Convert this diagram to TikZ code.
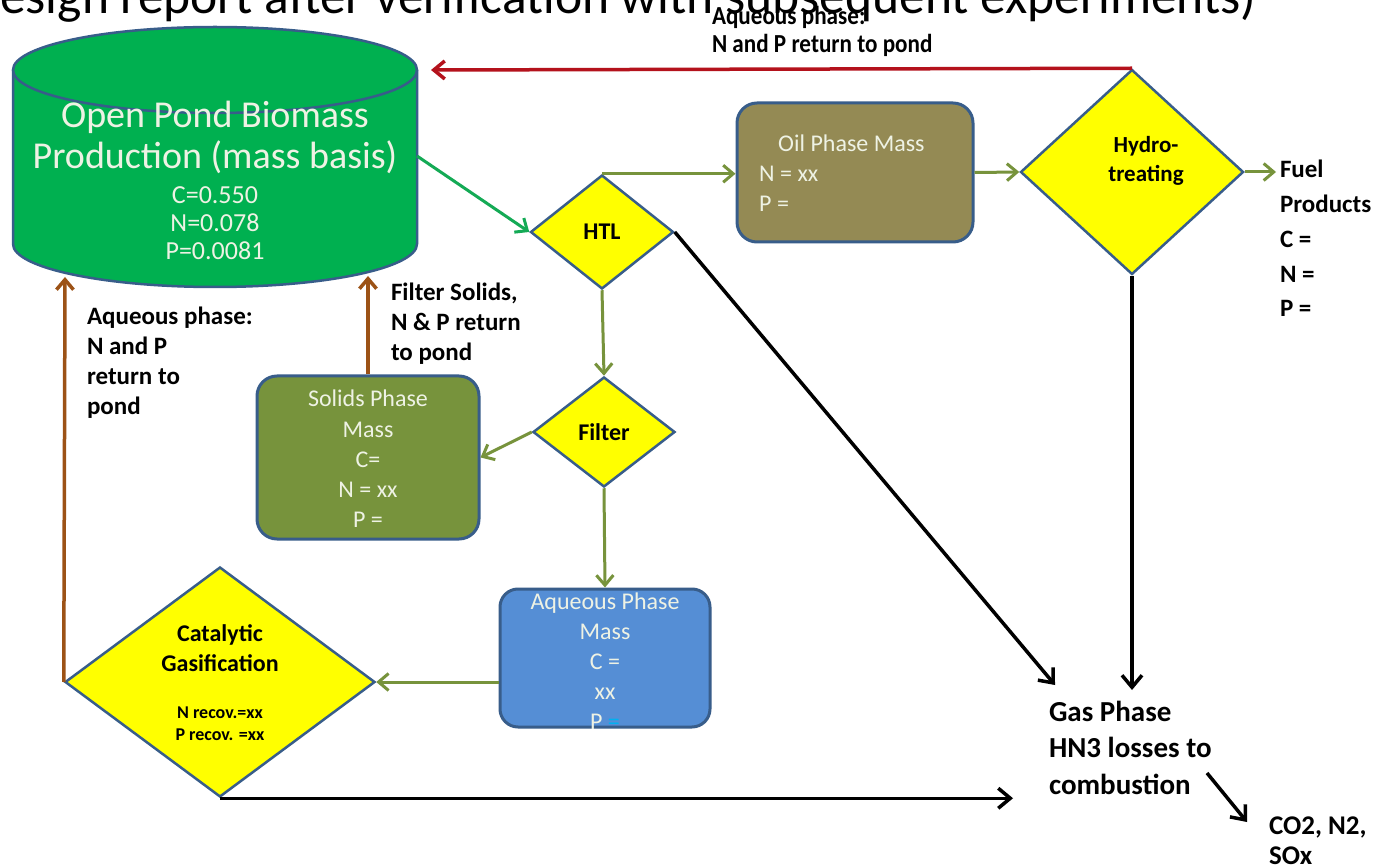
\documentclass[tikz,border=0pt]{standalone}
\usepackage{fontspec}
\setmainfont{Carlito}
\newfontfamily\condfont[FakeStretch=0.89]{Carlito}
\usetikzlibrary{arrows.meta,shapes.geometric}
\definecolor{pondgreen}{RGB}{0,176,80}
\definecolor{edgeblue}{RGB}{56,93,138}
\definecolor{oilfill}{RGB}{148,138,84}
\definecolor{solidfill}{RGB}{119,147,60}
\definecolor{aqfill}{RGB}{85,142,213}
\definecolor{diayellow}{RGB}{255,255,0}
\definecolor{olivearrow}{RGB}{119,147,60}
\definecolor{greenarrow}{RGB}{20,170,85}
\definecolor{brownarrow}{RGB}{156,82,22}
\definecolor{redarrow}{RGB}{180,18,28}
\definecolor{lighttext}{RGB}{238,242,228}
\definecolor{cyantext}{RGB}{0,176,240}
\newcommand\fsz[2]{\fontsize{#1}{#2}\selectfont}
\tikzset{
  decision/.style={diamond, draw=edgeblue, line width=2.5pt, fill=diayellow, inner sep=0pt},
  massbox/.style={rectangle, rounded corners=20pt, draw=edgeblue, line width=3pt, inner sep=0pt},
  lighttxt/.style={text=lighttext, align=center, inner sep=0pt},
  darktxt/.style={text=black, align=center, inner sep=0pt, font=\bfseries\fsz{24}{30}},
  sidelabel/.style={text=black, align=left, inner sep=0pt, outer sep=4pt, anchor=base west, font=\bfseries\fsz{25}{30}},
  olivearr/.style={draw=olivearrow, line width=3pt, -{Straight Barb[length=10pt,width=17pt]}},
  greenarr/.style={draw=greenarrow, line width=3pt, -{Straight Barb[length=10pt,width=17pt]}},
  blackarr/.style={draw=black, line width=3.5pt, -{Straight Barb[length=12pt,width=20pt]}},
  brownarr/.style={draw=brownarrow, line width=3.5pt, -{Straight Barb[length=10pt,width=17pt]}},
  redarr/.style={draw=redarrow, line width=3.5pt, -{Straight Barb[length=11pt,width=18pt]}}
}
\begin{document}
\begin{tikzpicture}[x=1pt,y=-1pt]
\useasboundingbox (0,0) rectangle (1382,866);
\fill[white] (0,0) rectangle (1382,866);

% cut-off title
\node[anchor=base west, inner sep=0pt, font=\fsz{51.5}{52}] (title) at (0,14)
  {esign report after verification with subsequent experiments)};

% pond cylinder
\fill[pondgreen] (13,70) rectangle (417,244);
\fill[pondgreen] (215,244) ellipse [x radius=202pt, y radius=43pt];
\draw[edgeblue, line width=2.5pt] (13,70) -- (13,244)
  arc[start angle=180, end angle=360, x radius=202pt, y radius=43pt] -- (417,70);
\draw[edgeblue, line width=2.5pt, fill=pondgreen] (215,70) ellipse [x radius=202pt, y radius=43pt];
\node[lighttxt, font=\fsz{38}{41}] (pond) at (215,137) {Open Pond Biomass\\Production (mass basis)};
\node[lighttxt, font=\fsz{26}{28}] (pondvals) at (215,223) {C=0.550\\N=0.078\\P=0.0081};
\coordinate (pondE) at (417,156);
\coordinate (pondTR) at (431,70);
\coordinate (pondBL) at (65,277);
\coordinate (pondBM) at (368,276);

% decisions
\node[decision, minimum width=143pt, minimum height=114pt] (htl) at (602,232) {};
\node[darktxt] (htltxt) at (602,232) {HTL};
\node[decision, minimum width=142pt, minimum height=110pt] (filter) at (604,432) {};
\node[darktxt] (filtertxt) at (604,432) {Filter};
\node[decision, minimum width=223pt, minimum height=205pt] (hydro) at (1132,172) {};
\node[darktxt, font=\bfseries\fsz{23}{29}] (hydrotxt) at (1146,161) {Hydro-\\treating};
\node[decision, minimum width=310pt, minimum height=230pt] (cat) at (220,682) {};
\node[darktxt] (cattxt) at (220,648) {Catalytic\\Gasification};
\node[darktxt, font=\bfseries\fsz{18}{22}] (catrec) at (220,724) {N recov.=xx\\P recov. =xx};

% mass boxes
\node[massbox, fill=oilfill, minimum width=236pt, minimum height=139pt] (oil) at (855,172.5) {};
\node[text=lighttext, align=left, inner sep=0pt, anchor=base west, font=\fsz{24}{30}] (oiltxt) at (759,212)
  {\hspace*{19pt}Oil Phase Mass\\N = xx\\P =};
\node[massbox, fill=solidfill, minimum width=222pt, minimum height=163pt] (solids) at (368,457.5) {};
\node[lighttxt, font=\fsz{24}{30.3}] (solidstxt) at (368,459) {Solids Phase\\Mass\\C=\\N = xx\\P =};
\node[massbox, fill=aqfill, minimum width=210pt, minimum height=138pt, rounded corners=18pt] (aq) at (605,658) {};
\node[lighttxt, font=\fsz{24}{30}] (aqtxt) at (605,661) {Aqueous Phase\\Mass\\C =\\xx\\P {\color{cyantext}=}};

% free text
\node[sidelabel, font=\bfseries\fsz{25}{34.75}] (fuel) at (1276,317) {Fuel\\Products\\C =\\N =\\P =};
\node[sidelabel, font=\bfseries\fsz{29}{36.5}] (gas) at (1045,794) {Gas Phase\\HN3 losses to\\combustion};
\node[sidelabel, font=\bfseries\fsz{27}{30}] (co2) at (1265,864) {CO2, N2,\\SOx};
\node[sidelabel] (aqlbl) at (83,415) {Aqueous phase:\\N and P\\return to\\pond};
\node[sidelabel] (fslbl) at (387,361) {Filter Solids,\\N \& P return\\to pond};
\node[sidelabel, font=\condfont\bfseries\fsz{26}{28}] (toplbl) at (708,53) {Aqueous phase:\\N and P return to pond};

\coordinate (gasA) at (1055,685);
\coordinate (gasB) at (1132,690);
\coordinate (gasC) at (1013,797);
\coordinate (co2from) at (1207,773);
\coordinate (co2to) at (1247,822);

% connectors
\draw[greenarr] (pondE) -- (htl.west);
\draw[olivearr] (htl.north) -- (htl.north -| oil.west);
\draw[olivearr] (oil.east) -- (hydro.west);
\draw[olivearr] (hydro.east) -- (hydro.east -| fuel.west);
\draw[redarr] (hydro.north) -- (pondTR);
\draw[blackarr] (htl.east) -- (gasA);
\draw[blackarr] (hydro.south) -- (gasB);
\draw[blackarr] (cat.south) -- (cat.south -| gasC);
\draw[blackarr] (co2from) -- (co2to);
\draw[olivearr] (htl.south) -- (filter.north);
\draw[olivearr] (filter.west) -- (solids.east);
\draw[olivearr] (filter.south) -- (aq.north);
\draw[olivearr] (aq.west |- cat.east) -- (cat.east);
\draw[brownarr] (cat.west) -- (pondBL);
\draw[brownarr] (solids.north) -- (pondBM);
\end{tikzpicture}
\end{document}
